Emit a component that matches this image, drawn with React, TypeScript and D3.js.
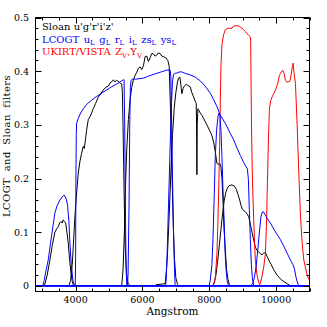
import React, { useEffect, useRef } from "react";
import * as d3 from "d3";

// transmission curves, [wavelength (Angstrom), throughput]
const sloanU = [[3000,0],[3080,0.003],[3150,0.02],[3230,0.048],[3300,0.075],[3380,0.1],[3440,0.107],[3480,0.11],[3530,0.118],[3560,0.12],[3600,0.117],[3630,0.123],[3660,0.12],[3700,0.118],[3740,0.1],[3780,0.08],[3820,0.05],[3860,0.025],[3900,0.008],[3940,0]];
const sloanG = [[3800,0],[3850,0.01],[3900,0.04],[3930,0.073],[3980,0.13],[4030,0.173],[4080,0.21],[4130,0.232],[4180,0.247],[4230,0.26],[4260,0.256],[4300,0.275],[4330,0.29],[4380,0.31],[4430,0.315],[4480,0.322],[4530,0.33],[4600,0.34],[4680,0.352],[4750,0.358],[4830,0.365],[4900,0.37],[4980,0.372],[5030,0.378],[5080,0.38],[5130,0.384],[5180,0.38],[5230,0.383],[5280,0.381],[5330,0.378],[5380,0.376],[5400,0.36],[5420,0.3],[5450,0.18],[5480,0.08],[5520,0.025],[5570,0.005],[5630,0]];
const sloanR = [[5380,0],[5420,0.03],[5460,0.1],[5500,0.2],[5530,0.253],[5580,0.31],[5630,0.346],[5680,0.37],[5730,0.384],[5780,0.392],[5830,0.398],[5880,0.405],[5930,0.408],[5980,0.403],[6030,0.41],[6080,0.427],[6130,0.428],[6180,0.418],[6230,0.425],[6280,0.433],[6330,0.432],[6380,0.428],[6430,0.43],[6480,0.434],[6530,0.433],[6580,0.428],[6630,0.427],[6700,0.425],[6760,0.42],[6800,0.41],[6840,0.33],[6880,0.22],[6920,0.12],[6960,0.05],[7000,0.015],[7050,0.003],[7080,0]];
const sloanI = [[6400,0.002],[6680,0.004],[6720,0.03],[6750,0.06],[6800,0.13],[6850,0.21],[6900,0.28],[6950,0.33],[7000,0.36],[7050,0.38],[7080,0.387],[7120,0.389],[7150,0.375],[7180,0.358],[7220,0.368],[7250,0.372],[7300,0.375],[7350,0.374],[7430,0.371],[7480,0.36],[7530,0.352],[7580,0.344],[7610,0.34],[7620,0.3],[7630,0.207],[7640,0.3],[7660,0.33],[7680,0.328],[7730,0.322],[7780,0.318],[7830,0.312],[7930,0.3],[8030,0.287],[8080,0.28],[8130,0.268],[8180,0.25],[8230,0.228],[8280,0.226],[8310,0.229],[8350,0.222],[8380,0.2],[8410,0.16],[8440,0.11],[8480,0.067],[8520,0.03],[8560,0.012],[8600,0.003],[8630,0]];
const sloanZ = [[8100,0],[8150,0.005],[8200,0.02],[8250,0.045],[8300,0.075],[8350,0.105],[8400,0.135],[8450,0.16],[8500,0.175],[8550,0.183],[8600,0.187],[8680,0.188],[8750,0.186],[8810,0.18],[8860,0.17],[8910,0.16],[8950,0.15],[8990,0.143],[9040,0.14],[9080,0.138],[9130,0.134],[9180,0.129],[9230,0.115],[9280,0.1],[9330,0.085],[9380,0.072],[9430,0.066],[9480,0.063],[9530,0.06],[9580,0.058],[9630,0.061],[9680,0.062],[9730,0.055],[9780,0.048],[9850,0.04],[9930,0.03],[10030,0.02],[10130,0.013],[10230,0.008],[10330,0.004],[10430,0]];

const lcogtU = [[3020,0],[3060,0.01],[3120,0.03],[3180,0.048],[3250,0.08],[3320,0.11],[3380,0.136],[3450,0.15],[3530,0.16],[3600,0.166],[3660,0.169],[3720,0.162],[3760,0.15],[3800,0.12],[3830,0.08],[3870,0.04],[3920,0.01],[3960,0.002],[4000,0]];
const lcogtG = [[3990,0],[4000,0.05],[4010,0.2],[4020,0.28],[4030,0.303],[4080,0.312],[4150,0.322],[4230,0.33],[4330,0.338],[4480,0.346],[4630,0.353],[4780,0.359],[4930,0.365],[5080,0.371],[5230,0.376],[5330,0.38],[5430,0.384],[5450,0.384],[5470,0.3],[5490,0.15],[5510,0.04],[5530,0]];
const lcogtR = [[5550,0],[5570,0.02],[5600,0.15],[5620,0.3],[5640,0.37],[5660,0.383],[5700,0.385],[5800,0.385],[5900,0.386],[6030,0.387],[6150,0.39],[6280,0.393],[6430,0.396],[6580,0.399],[6730,0.402],[6830,0.402],[6850,0.39],[6870,0.32],[6900,0.2],[6930,0.1],[6960,0.03],[6980,0]];
const lcogtI = [[6690,0],[6710,0.01],[6740,0.06],[6780,0.15],[6830,0.26],[6870,0.34],[6900,0.38],[6930,0.394],[6980,0.396],[7050,0.397],[7130,0.399],[7200,0.398],[7280,0.396],[7430,0.393],[7580,0.389],[7730,0.382],[7880,0.372],[8030,0.359],[8130,0.347],[8230,0.334],[8330,0.318],[8480,0.303],[8630,0.284],[8730,0.272],[8830,0.257],[8930,0.243],[9030,0.23],[9100,0.222],[9140,0.218],[9170,0.2],[9200,0.14],[9230,0.086],[9260,0.04],[9290,0.015],[9330,0]];
const lcogtZs = [[7990,0],[8030,0.01],[8080,0.04],[8110,0.086],[8150,0.17],[8180,0.241],[8220,0.29],[8260,0.315],[8290,0.322],[8320,0.318],[8350,0.29],[8380,0.241],[8410,0.18],[8430,0.148],[8460,0.09],[8480,0.055],[8510,0.025],[8540,0.008],[8580,0]];
const lcogtYs = [[9250,0],[9300,0.005],[9350,0.015],[9400,0.035],[9450,0.065],[9500,0.1],[9550,0.13],[9590,0.138],[9620,0.138],[9680,0.132],[9750,0.124],[9830,0.117],[9930,0.106],[10030,0.096],[10130,0.086],[10230,0.074],[10330,0.061],[10430,0.048],[10500,0.04],[10550,0.032],[10590,0.018],[10630,0.008],[10680,0]];

const ukirtZ = [[8080,0],[8130,0.003],[8180,0.015],[8230,0.06],[8260,0.12],[8290,0.2],[8310,0.26],[8330,0.34],[8350,0.41],[8380,0.45],[8430,0.468],[8480,0.477],[8530,0.479],[8580,0.48],[8680,0.48],[8730,0.484],[8800,0.485],[8880,0.484],[8930,0.482],[8980,0.48],[9030,0.477],[9080,0.474],[9130,0.47],[9180,0.467],[9230,0.464],[9240,0.455],[9250,0.38],[9265,0.3],[9280,0.235],[9305,0.17],[9330,0.125],[9355,0.08],[9380,0.048],[9430,0.02],[9480,0.006],[9530,0]];
const ukirtY = [[9480,0],[9530,0.005],[9580,0.018],[9630,0.035],[9680,0.06],[9710,0.11],[9740,0.19],[9770,0.27],[9800,0.33],[9840,0.345],[9880,0.352],[9930,0.358],[9980,0.365],[10050,0.377],[10100,0.392],[10130,0.396],[10170,0.4],[10210,0.401],[10250,0.393],[10280,0.383],[10310,0.38],[10360,0.38],[10410,0.381],[10450,0.393],[10490,0.41],[10510,0.415],[10540,0.395],[10580,0.377],[10630,0.3],[10680,0.21],[10730,0.13],[10780,0.08],[10830,0.048],[10930,0.02],[11000,0.01]];

const sloanCurves = [sloanU, sloanG, sloanR, sloanI, sloanZ];
const ukirtCurves = [ukirtZ, ukirtY];
const lcogtCurves = [lcogtU, lcogtG, lcogtR, lcogtI, lcogtZs, lcogtYs];

const xTickLabels = [4000, 6000, 8000, 10000];
const yTickLabels = [0, 0.1, 0.2, 0.3, 0.4, 0.5];
const lcogtNames = ["u", "g", "r", "i", "zs", "ys"];
const ukirtNames = ["Z", "Y"];

const App = () => {
  const ref = useRef<SVGSVGElement>(null);

  useEffect(() => {
    const left = 35.5, right = 309.5, top = 17.5, bottom = 291.5;
    const font = "'DejaVu Serif', serif";

    const x = d3.scaleLinear().domain([2800, 11000]).range([left, right]);
    const y = d3.scaleLinear().domain([-0.0105, 0.5]).range([bottom, top]);

    const svg = d3.select(ref.current);
    svg.selectAll("*").remove();

    svg.append("rect").attr("width", 327).attr("height", 327).attr("fill", "#fff");

    svg.append("clipPath").attr("id", "plotclip")
      .append("rect")
      .attr("x", left).attr("y", top)
      .attr("width", right - left).attr("height", bottom - top);

    const line = d3.line<number[]>()
      .x((d) => x(d[0]))
      .y((d) => y(d[1]));

    const curves = svg.append("g").attr("clip-path", "url(#plotclip)").attr("fill", "none").attr("stroke-width", 1);

    sloanCurves.forEach((c) => {
      curves.append("path").attr("d", line(c)).attr("stroke", "#000");
    });
    ukirtCurves.forEach((c) => {
      curves.append("path").attr("d", line(c)).attr("stroke", "#ff0000");
    });
    const [x0, x1] = x.domain();
    lcogtCurves.forEach((c) => {
      const padded = [[x0, 0], ...c, [x1, 0]];
      curves.append("path").attr("d", line(padded)).attr("stroke", "#0000ff");
    });

    // frame
    svg.append("rect")
      .attr("x", left).attr("y", top)
      .attr("width", right - left).attr("height", bottom - top)
      .attr("fill", "none").attr("stroke", "#000").attr("stroke-width", 1);

    // inward ticks on all four sides
    const ticks = svg.append("g").attr("stroke", "#000").attr("stroke-width", 1);
    x.ticks(16).forEach((v) => {
      const len = v % 2000 === 0 ? 6 : 3;
      const px = Math.round(x(v)) + 0.5;
      ticks.append("line").attr("x1", px).attr("x2", px).attr("y1", bottom).attr("y2", bottom - len);
      ticks.append("line").attr("x1", px).attr("x2", px).attr("y1", top).attr("y2", top + len);
    });
    y.ticks(25).filter((v) => v >= 0).forEach((v) => {
      const major = Math.abs(v * 10 - Math.round(v * 10)) < 1e-6;
      const len = major ? 6 : 3;
      const py = Math.round(y(v)) + 0.5;
      ticks.append("line").attr("x1", left).attr("x2", left + len).attr("y1", py).attr("y2", py);
      ticks.append("line").attr("x1", right).attr("x2", right - len).attr("y1", py).attr("y2", py);
    });

    svg.append("g")
      .selectAll("text")
      .data(xTickLabels)
      .enter()
      .append("text")
      .attr("x", (d) => x(d))
      .attr("y", 303)
      .attr("text-anchor", "middle")
      .style("font-family", font)
      .style("font-size", "9.5px")
      .text((d) => d);

    svg.append("g")
      .selectAll("text")
      .data(yTickLabels)
      .enter()
      .append("text")
      .attr("x", 29)
      .attr("y", (d) => y(d))
      .attr("dy", "0.36em")
      .attr("text-anchor", "end")
      .style("font-family", font)
      .style("font-size", "9.5px")
      .text((d) => (d === 0 ? "0" : d.toFixed(1)));

    svg.append("text")
      .attr("x", (left + right) / 2)
      .attr("y", 315)
      .attr("text-anchor", "middle")
      .style("font-family", font)
      .style("font-size", "10.5px")
      .text("Angstrom");

    svg.append("text")
      .attr("transform", "translate(10," + 146 + ") rotate(-90)")
      .attr("text-anchor", "middle")
      .style("font-family", font)
      .style("font-size", "10px")
      .style("letter-spacing", "0.4px")
      .style("word-spacing", "3px")
      .text("LCOGT and Sloan filters");

    // legend
    const legend = svg.append("g").style("font-family", font).style("font-size", "10px");

    legend.append("text").attr("x", 42).attr("y", 30).attr("fill", "#000").text("Sloan u'g'r'i'z'");

    const lc = legend.append("text").attr("x", 42).attr("y", 42.5).attr("fill", "#0000ff");
    lc.append("tspan").text("LCOGT");
    lcogtNames.forEach((n, i) => {
      lc.append("tspan").attr("dx", 4.5).attr("dy", i === 0 ? 0 : -2.5).text(n);
      lc.append("tspan").attr("dy", 2.5).style("font-size", "7px").text("L");
    });

    const uk = legend.append("text").attr("x", 42).attr("y", 55).attr("fill", "#ff0000");
    uk.append("tspan").text("UKIRT/VISTA");
    ukirtNames.forEach((n, i) => {
      uk.append("tspan").attr("dx", i === 0 ? 4.5 : 0).attr("dy", i === 0 ? 0 : -2.5).text((i === 0 ? "" : ",") + n);
      uk.append("tspan").attr("dy", 2.5).style("font-size", "7px").text("V");
    });
  }, []);

  return (
    <svg
      ref={ref}
      width={327}
      height={327}
      style={{ position: "absolute", left: 0, top: 0 }}
    ></svg>
  );
};

export default App;
